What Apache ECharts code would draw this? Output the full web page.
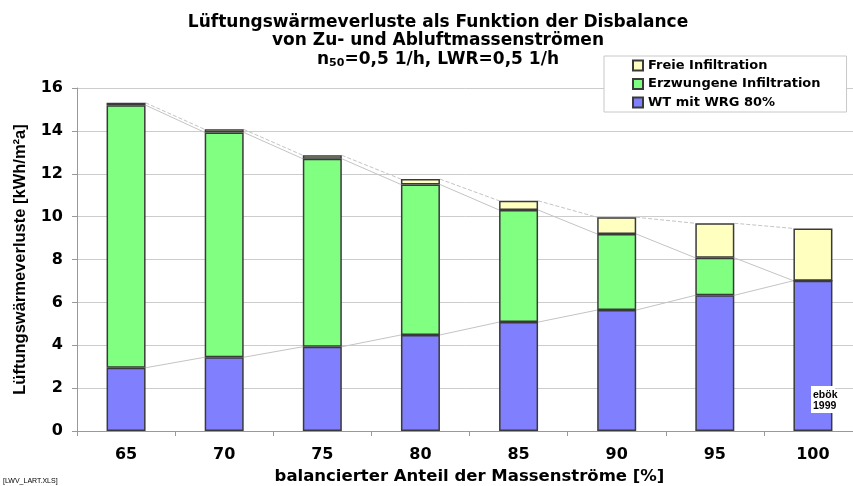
<!DOCTYPE html>
<html>
<head>
<meta charset="utf-8">
<script src="https://cdn.jsdelivr.net/npm/echarts@6/dist/echarts.min.js"></script>
<style>
  html, body { margin: 0; padding: 0; background: #fff; }
  #myChart { width: 853px; height: 486px; }
</style>
</head>
<body>
<div id="myChart"></div>
<script>
// Werte
var categories = ['65', '70', '75', '80', '85', '90', '95', '100'];
var wtWrg = [2.95, 3.44, 3.93, 4.48, 5.08, 5.64, 6.33, 7.01];
var erzwungen = [12.25, 10.49, 8.77, 7.02, 5.23, 3.55, 1.75, 0];
var frei = [0.11, 0.14, 0.16, 0.25, 0.43, 0.78, 1.61, 2.44];
var yTicks = [0, 2, 4, 6, 8, 10, 12, 14, 16];

var FONT = '"DejaVu Sans", sans-serif';
var FONT_ARIAL = '"Liberation Sans", Arial, sans-serif';
var BAR_W = 39;

// kumulierte Höhen für die Verbindungslinien
function levels(i) {
  var a = wtWrg[i];
  var b = a + erzwungen[i];
  return [a, b, b + frei[i]];
}

var myChart = echarts.init(document.getElementById('myChart'));

var option = {
  animation: false,
  backgroundColor: '#fff',
  title: {
    left: 433,
    top: 8,
    textAlign: 'center',
    text: '{a|Lüftungswärmeverluste als Funktion der Disbalance}\n{a|von Zu- und Abluftmassenströmen}\n{a|n}{s|50}{a|=0,5 1/h, LWR=0,5 1/h}',
    textStyle: {
      rich: {
        a: { fontFamily: FONT, fontWeight: 'bold', fontSize: 17, lineHeight: 18.5, color: '#000' },
        s: { fontFamily: FONT, fontWeight: 'bold', fontSize: 11, lineHeight: 18.5, color: '#000', verticalAlign: 'bottom' }
      }
    }
  },
  legend: {
    orient: 'vertical',
    left: 604,
    top: 56,
    padding: [3, 26, 3, 28],
    itemGap: 5.5,
    itemWidth: 10,
    itemHeight: 10,
    icon: 'rect',
    backgroundColor: '#fff',
    borderColor: '#c8c8c8',
    borderWidth: 1,
    data: ['Freie Infiltration', 'Erzwungene Infiltration', 'WT mit WRG 80%'],
    textStyle: { fontFamily: FONT, fontWeight: 'bold', fontSize: 13, color: '#000' },
    z: 10
  },
  grid: {
    left: 77,
    right: -9,
    top: 88,
    bottom: 55,
    outerBoundsMode: 'none'
  },
  xAxis: {
    type: 'category',
    data: categories,
    name: 'balancierter Anteil der Massenströme [%]',
    nameLocation: 'middle',
    nameGap: 36,
    nameTextStyle: { fontFamily: FONT, fontWeight: 'bold', fontSize: 16.5, color: '#000' },
    axisLine: { lineStyle: { color: '#999', width: 1 } },
    axisTick: { show: true, length: 5, lineStyle: { color: '#999' } },
    axisLabel: { fontFamily: FONT, fontWeight: 'bold', fontSize: 16, color: '#000', margin: 16 },
    splitLine: { show: false }
  },
  yAxis: {
    type: 'value',
    min: yTicks[0],
    max: yTicks[yTicks.length - 1],
    interval: 2,
    name: 'Lüftungswärmeverluste [kWh/m²a]',
    nameLocation: 'middle',
    nameGap: 48,
    nameTextStyle: { fontFamily: FONT_ARIAL, fontWeight: 'bold', fontSize: 16.5, color: '#000' },
    axisLine: { show: true, lineStyle: { color: '#999', width: 1 } },
    axisTick: { show: true, length: 5, lineStyle: { color: '#999' } },
    axisLabel: { fontFamily: FONT, fontWeight: 'bold', fontSize: 16, color: '#000', margin: 14 },
    splitLine: { lineStyle: { color: '#cccccc', width: 1 } }
  },
  series: [
    {
      name: 'WT mit WRG 80%',
      type: 'bar',
      stack: 'summe',
      barWidth: BAR_W,
      data: wtWrg,
      itemStyle: { color: '#8080ff', borderColor: '#3a3a3a', borderWidth: 1.5 }
    },
    {
      name: 'Erzwungene Infiltration',
      type: 'bar',
      stack: 'summe',
      barWidth: BAR_W,
      data: erzwungen,
      itemStyle: { color: '#80ff80', borderColor: '#3a3a3a', borderWidth: 1.5 }
    },
    {
      name: 'Freie Infiltration',
      type: 'bar',
      stack: 'summe',
      barWidth: BAR_W,
      data: frei,
      itemStyle: { color: '#ffffc0', borderColor: '#3a3a3a', borderWidth: 1.5 }
    },
    {
      // Reihenverbindungslinien zwischen den Säulen
      type: 'custom',
      silent: true,
      z: 1,
      data: categories.slice(0, -1).map(function (c, i) { return [i]; }),
      renderItem: function (params, api) {
        var i = params.dataIndex;
        var l0 = levels(i), l1 = levels(i + 1);
        var kids = [];
        for (var k = 0; k < 3; k++) {
          var p0 = api.coord([i, l0[k]]);
          var p1 = api.coord([i + 1, l1[k]]);
          kids.push({
            type: 'line',
            shape: { x1: p0[0] + BAR_W / 2, y1: p0[1], x2: p1[0] - BAR_W / 2, y2: p1[1] },
            style: { stroke: '#c4c4c4', lineWidth: 1, lineDash: k === 2 ? [4, 2] : null }
          });
        }
        return { type: 'group', children: kids };
      }
    }
  ],
  graphic: [
    {
      type: 'rect',
      left: 811,
      top: 386,
      shape: { width: 24, height: 27 },
      style: { fill: '#fff' },
      z: 20
    },
    {
      type: 'text',
      left: 813,
      top: 389,
      style: { text: 'ebök\n1999', fontFamily: FONT_ARIAL, fontWeight: 'bold', fontSize: 10.5, lineHeight: 11.5, fill: '#000' },
      z: 21
    },
    {
      type: 'text',
      left: 3,
      top: 478,
      style: { text: '[LWV_LART.XLS]', fontFamily: FONT_ARIAL, fontSize: 7, fill: '#000' },
      z: 21
    }
  ]
};

myChart.setOption(option);
</script>
</body>
</html>
